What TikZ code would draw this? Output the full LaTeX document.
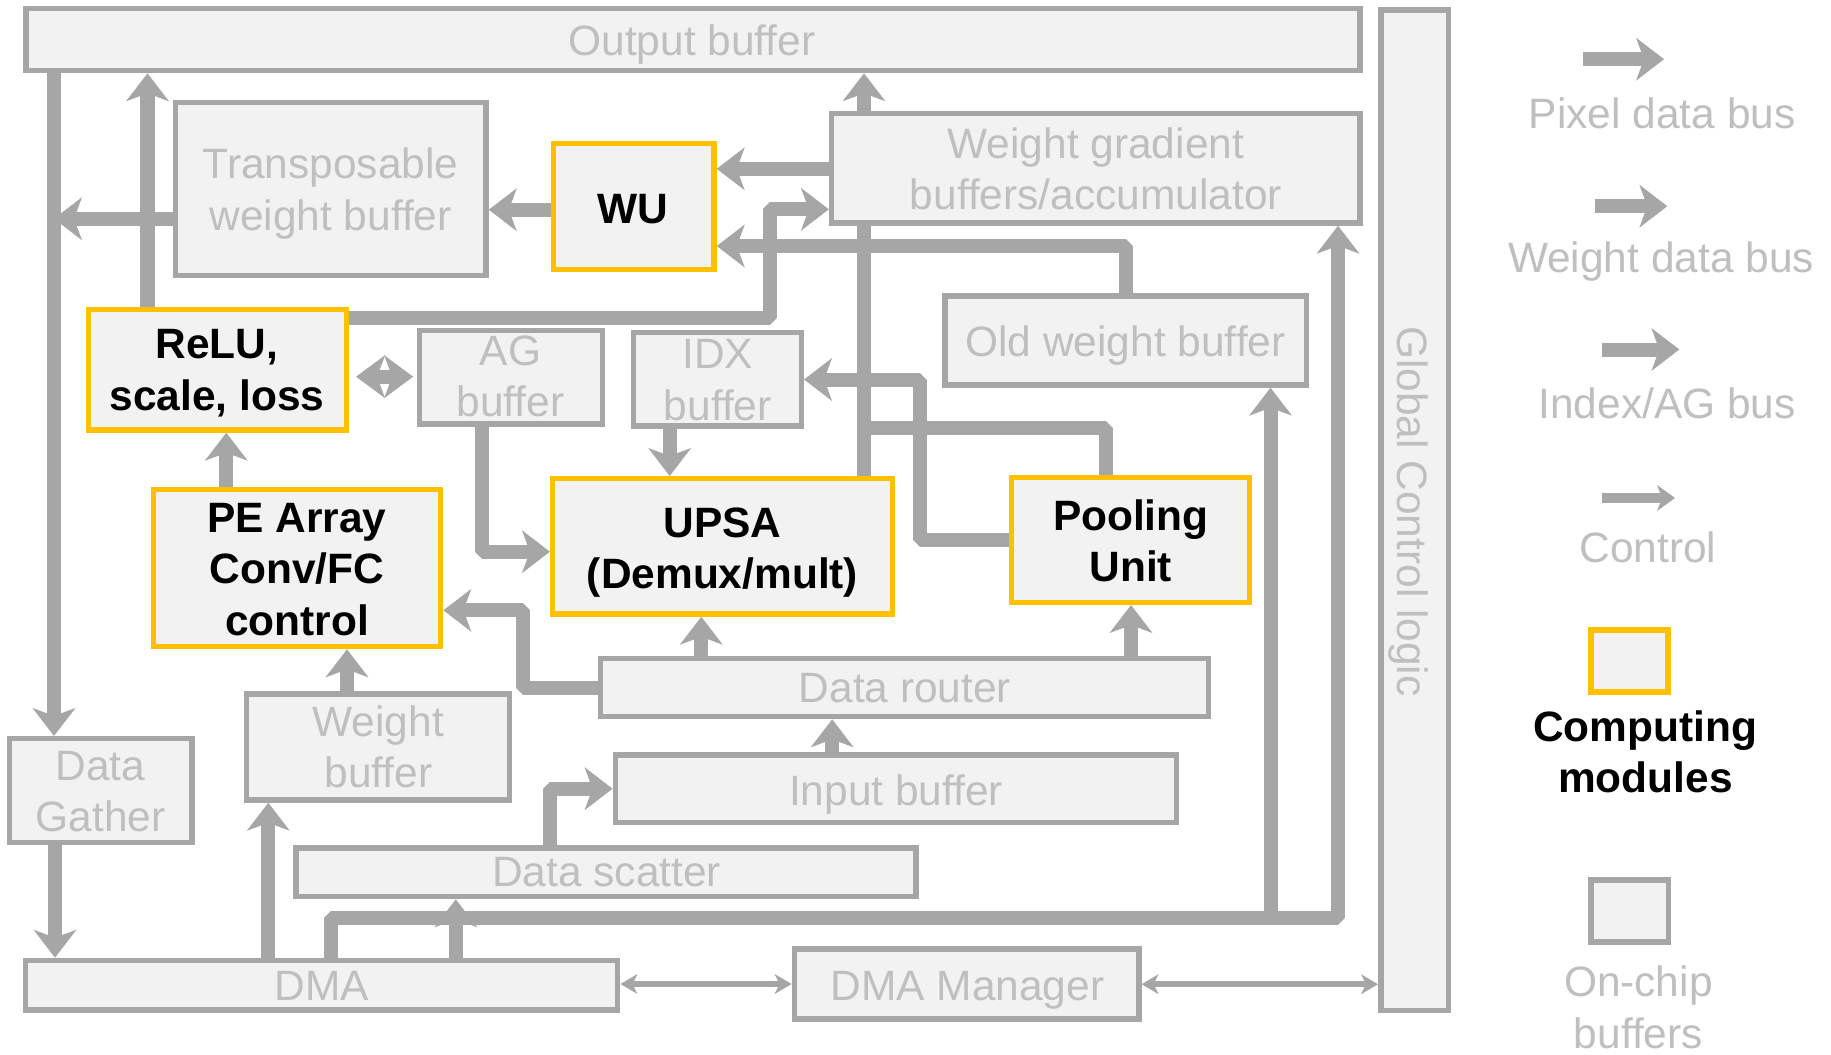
\documentclass[tikz,border=0pt]{standalone}
\usepackage{fontspec}
\setmainfont{Liberation Sans}
\usetikzlibrary{arrows.meta}
\definecolor{wire}{HTML}{A6A6A6}
\definecolor{boxfill}{HTML}{F2F2F2}
\definecolor{softtext}{HTML}{BFBFBF}
\definecolor{unitedge}{HTML}{FFC000}
\tikzset{
  membox/.style={rectangle, draw=wire, fill=boxfill, line width=0.055cm, inner sep=0pt},
  unitbox/.style={rectangle, draw=unitedge, fill=boxfill, line width=0.055cm, inner sep=0pt},
  % labels are placed by the baseline of their last line
  lbl/.style={inner sep=0pt, anchor=base, align=center, font=\fontsize{12.07pt}{14.55pt}\selectfont},
  buflbl/.style={lbl, text=softtext},
  unitlbl/.style={lbl, text=black, font=\fontsize{12.07pt}{14.55pt}\selectfont\bfseries},
  bus/.style={draw=wire, line width=0.14cm, line join=bevel},
  busarrow/.style={bus, -{Stealth[length=0.28cm, width=0.43cm, inset=0.08cm, line width=0pt]}},
  twoway/.style={bus, {Stealth[length=0.29cm, width=0.43cm, inset=0.08cm, line width=0pt]}-{Stealth[length=0.29cm, width=0.43cm, inset=0.08cm, line width=0pt]}},
  ctrlarrow/.style={draw=wire, line width=0.055cm, {Stealth[length=0.17cm, width=0.2cm, inset=0.05cm, line width=0pt]}-{Stealth[length=0.17cm, width=0.2cm, inset=0.05cm, line width=0pt]}},
  keyctrl/.style={draw=wire, line width=0.093cm, -{Stealth[length=0.18cm, width=0.26cm, inset=0.05cm, line width=0pt]}},
}
\begin{document}
\begin{tikzpicture}[x=0.01cm, y=-0.01cm]
\fill[white] (0,0) rectangle (1831,1054);
\useasboundingbox (0,0) rectangle (1831,1054);

% ---------- blocks ----------
\node[membox, minimum width=13.335cm, minimum height=0.618cm] (out) at (693,39.65) {};
\node[membox, minimum width=0.675cm, minimum height=9.997cm] (gcl) at (1414.5,510.1) {};
\node[membox, minimum width=3.105cm, minimum height=1.728cm] (trans) at (330.7,189.15) {};
\node[unitbox, minimum width=1.605cm, minimum height=1.258cm] (wu) at (633.7,206.65) {};
\node[membox, minimum width=5.282cm, minimum height=1.092cm] (wg) at (1095.85,168.35) {};
\node[unitbox, minimum width=2.575cm, minimum height=1.205cm] (relu) at (217.5,369.7) {};
\node[membox, minimum width=1.831cm, minimum height=0.935cm] (ag) at (511,377.2) {};
\node[membox, minimum width=1.675cm, minimum height=0.935cm] (idx) at (717.5,379.2) {};
\node[membox, minimum width=3.612cm, minimum height=0.889cm] (old) at (1125.65,340.5) {};
\node[unitbox, minimum width=2.868cm, minimum height=1.571cm] (pe) at (297.15,568) {};
\node[unitbox, minimum width=3.398cm, minimum height=1.352cm] (upsa) at (722.65,546.35) {};
\node[unitbox, minimum width=2.375cm, minimum height=1.245cm] (pool) at (1130.5,540) {};
\node[membox, minimum width=6.075cm, minimum height=0.581cm] (router) at (904.5,687.5) {};
\node[membox, minimum width=5.608cm, minimum height=0.672cm] (input) at (895.85,788.65) {};
\node[membox, minimum width=2.625cm, minimum height=1.059cm] (wbuf) at (378,747) {};
\node[membox, minimum width=1.825cm, minimum height=1.038cm] (gather) at (100.7,790.65) {};
\node[membox, minimum width=6.199cm, minimum height=0.488cm] (scatter) at (606,872.15) {};
\node[membox, minimum width=5.921cm, minimum height=0.495cm] (dma) at (321.5,985.2) {};
\node[membox, minimum width=3.443cm, minimum height=0.702cm] (dmam) at (966.6,983.85) {};

% ---------- legend swatches ----------
\node[unitbox, minimum width=0.772cm, minimum height=0.619cm] (keyunit) at (1629.35,661) {};
\node[membox, minimum width=0.772cm, minimum height=0.619cm] (keybuf) at (1629.65,911) {};

% ---------- data paths ----------
\coordinate (leftrail) at (54,0);
\coordinate (lowbus) at (0,917.5);

\draw[busarrow] (out.south -| leftrail) -- (gather.north -| leftrail);
\draw[busarrow] (relu.north -| 147.5,0) -- (out.south -| 147.5,0);
\draw[busarrow] (trans.west |- 0,218.7) -- (leftrail |- 0,218.7);
\draw[busarrow] (wu.west |- 0,209.7) -- (trans.east |- 0,209.7);
\draw[busarrow] (wg.west |- 0,168.8) -- (wu.east |- 0,168.8);
\draw[busarrow] (old.north -| 1125.5,0) |- (wu.east |- 0,246);
\draw[busarrow] (relu.east |- 0,318.3) -| (769.5,209.3) -- (wg.west |- 0,209.3);
\draw[busarrow] (wg.north -| 864,0) -- (out.south -| 864,0);
\draw[bus] (wg.south -| 864,0) -- (upsa.north -| 864,0);
\draw[bus] (pool.north -| 1105.7,0) |- (864,428.3);
\draw[busarrow] (pool.west |- 0,540) -| (919.7,379.5) -- (idx.east |- 0,379.5);
\draw[busarrow] (idx.south -| 669.7,0) -- (upsa.north -| 669.7,0);
\draw[busarrow] (ag.south -| 482,0) |- (upsa.west |- 0,551.7);
\draw[twoway, shorten <=0.07cm, shorten >=0.035cm] (relu.east |- 0,376.7) -- (ag.west |- 0,376.7);
\draw[busarrow] (pe.north -| 226.3,0) -- (relu.south -| 226.3,0);
\draw[busarrow] (router.west |- 0,687.5) -| (522.5,610.3) -- (pe.east |- 0,610.3);
\draw[busarrow] (router.north -| 701.3,0) -- (upsa.south -| 701.3,0);
\draw[busarrow] (router.north -| 1131,0) -- (pool.south -| 1131,0);
\draw[busarrow] (input.north -| 832.2,0) -- (router.south -| 832.2,0);
\draw[busarrow] (scatter.north -| 550.3,0) |- (input.west |- 0,788.7);
\draw[busarrow] (wbuf.north -| 347,0) -- (pe.south -| 347,0);
\draw[busarrow] (dma.north -| 268.3,0) -- (wbuf.south -| 268.3,0);
\draw[busarrow] (gather.south -| 55,0) -- (dma.north -| 55,0);
\draw[busarrow] (dma.north -| 455.8,0) -- (scatter.south -| 455.8,0);
\draw[busarrow] (dma.north -| 331,0) |- (lowbus -| 1338,0) -- (wg.south -| 1338,0);
\draw[busarrow] (lowbus -| 1270.5,0) -- (old.south -| 1270.5,0);

% ---------- control links ----------
\draw[ctrlarrow] (dma.east |- 0,984) -- (dmam.west |- 0,984);
\draw[ctrlarrow] (dmam.east |- 0,984.2) -- (gcl.west |- 0,984.2);

% ---------- legend arrows ----------
\coordinate (kpixA) at (1582.7,59.2);   \coordinate (kpixB) at (1664,59.2);
\coordinate (kwtA) at (1595,206.2);     \coordinate (kwtB) at (1667.3,206.2);
\coordinate (kidxA) at (1601.7,349.5);  \coordinate (kidxB) at (1679.3,349.5);
\coordinate (kctlA) at (1601.7,498);    \coordinate (kctlB) at (1675,498);
\draw[busarrow] (kpixA) -- (kpixB);
\draw[busarrow] (kwtA) -- (kwtB);
\draw[busarrow] (kidxA) -- (kidxB);
\draw[keyctrl] (kctlA) -- (kctlB);

% ---------- labels ----------
\node[buflbl] (outT) at (692,55) {Output buffer};
\node[buflbl, rotate=-90] (gclT) at (1397.5,511.4) {Global Control logic};
\node[buflbl] (transT) at (330.5,230) {Transposable\\weight buffer};
\node[unitlbl] (wuT) at (633,223.3) {WU};
\node[buflbl] (wgT) at (1095.8,209.3) {Weight gradient\\buffers/accumulator};
\node[unitlbl] (reluT) at (217,410) {ReLU,\\scale, loss};
\node[buflbl] (agT) at (510.5,416.7) {AG\\buffer};
\node[buflbl] (idxT) at (717.8,420) {IDX\\buffer};
\node[buflbl] (oldT) at (1125.5,356) {Old weight buffer};
\node[unitlbl] (peT) at (297,635) {PE Array\\Conv/FC\\control};
\node[unitlbl] (upsaT) at (722.5,588.3) {UPSA\\(Demux/mult)};
\node[unitlbl] (poolT) at (1130.8,581.7) {Pooling\\Unit};
\node[buflbl] (routerT) at (905,702.7) {Data router};
\node[buflbl] (inputT) at (896,805) {Input buffer};
\node[buflbl] (wbufT) at (378.3,787.3) {Weight\\buffer};
\node[buflbl] (gatherT) at (100.5,831.7) {Data\\Gather};
\node[buflbl] (scatterT) at (606.6,886.7) {Data scatter};
\node[buflbl] (dmaT) at (321.7,1000) {DMA};
\node[buflbl] (dmamT) at (967.5,1000) {DMA Manager};

\node[buflbl] (kpixT) at (1662.2,128.3) {Pixel data bus};
\node[buflbl] (kwtT) at (1661,272.5) {Weight data bus};
\node[buflbl] (kidxT) at (1667,418.7) {Index/AG bus};
\node[buflbl] (kctlT) at (1648,562.6) {Control};
\node[unitlbl] (kunitT) at (1645.3,792.7) {Computing\\modules};
\node[buflbl] (kbufT) at (1638.3,1048) {On-chip\\buffers};
\end{tikzpicture}
\end{document}
